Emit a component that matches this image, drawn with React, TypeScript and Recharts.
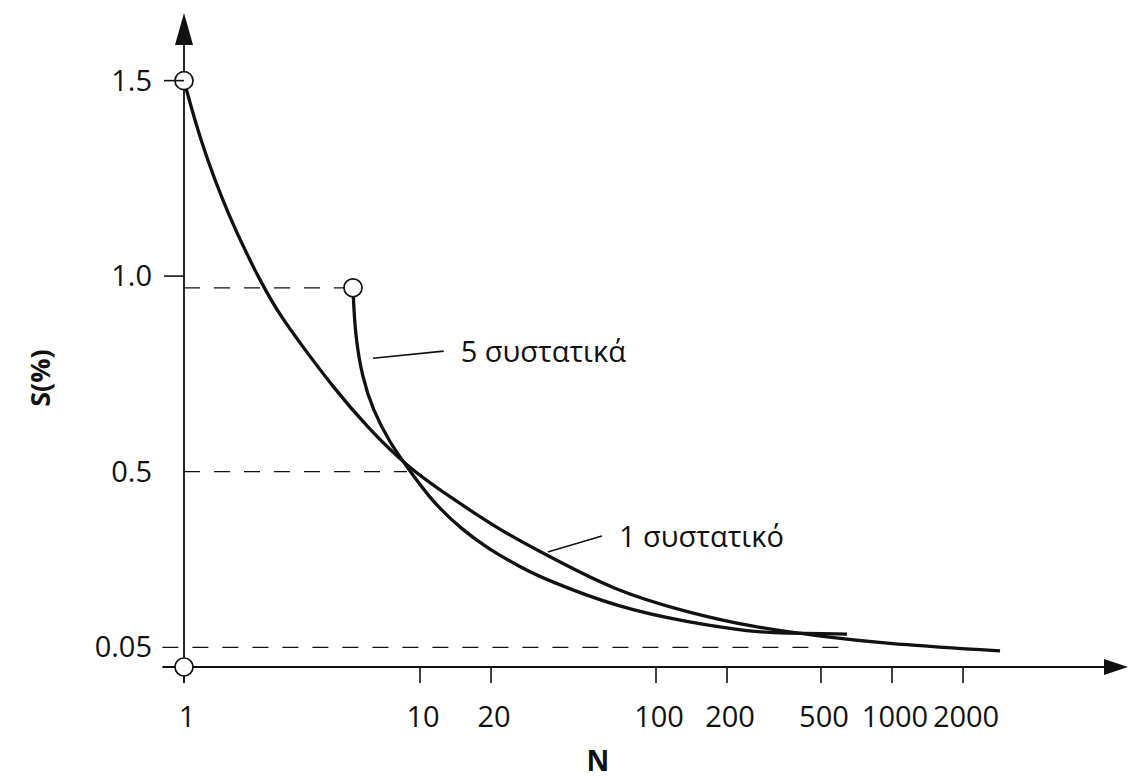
import React from 'react';
import { ComposedChart, Line, XAxis, YAxis, ReferenceLine, Scatter } from 'recharts';

// X axis (N, log-like) tick values
const xTicks = [1, 10, 20, 100, 200, 500, 1000, 2000];
// Y axis (S %) ticks
const yTicks = [0.05, 0.5, 1.0, 1.5];
const yTickLabels = ['0.05', '0.5', '1.0', '1.5'];

// Curve "1 συστατικό"
const oneN = [1, 1.17, 1.52, 2.16, 2.6, 3.1, 4.28, 5.96, 8.81, 13.4, 21.8, 34.5, 65.7, 135, 258, 495, 889, 2870];
const oneS = [1.5, 1.348, 1.161, 0.972, 0.893, 0.829, 0.716, 0.614, 0.512, 0.435, 0.35, 0.286, 0.197, 0.14, 0.102, 0.079, 0.061, 0.041];

// Curve "5 συστατικά"
const fiveN = [5.2, 5.3, 5.68, 6.32, 7.46, 8.81, 11.4, 15.2, 19.2, 26.5, 34.5, 70.3, 135, 258, 335, 645];
const fiveS = [0.97, 0.854, 0.742, 0.657, 0.573, 0.512, 0.419, 0.35, 0.305, 0.256, 0.222, 0.151, 0.115, 0.0895, 0.087, 0.084];

// open circle markers
const markerN = [1, 1, 5.2];
const markerS = [1.5, 0, 0.97];

// dashed guide lines (S level, from N, to N)
const guideS = [0.97, 0.5, 0.05];
const guideFrom = [1, 1, 0.81];
const guideTo = [5.2, 8.81, 650];

// annotations: leader line from (n1,s1) to (n2,s2), text after it
const noteText = ['5 συστατικά', '1 συστατικό'];
const noteN1 = [6.32, 34.8];
const noteS1 = [0.79, 0.294];
const noteN2 = [12.6, 59];
const noteS2 = [0.808, 0.335];

const Y_MAX = 1.673;
const X_MAX = 10000;

const FONT = '"Open Sans", "Noto Sans", sans-serif';

const oneData = oneN.map((n, i) => ({ n, s: oneS[i] }));
const fiveData = fiveN.map((n, i) => ({ n, s: fiveS[i] }));
const markerData = markerN.map((n, i) => ({ n, s: markerS[i] }));

const XTick = (props: any) => {
  const { x, y, payload } = props;
  return (
    <text x={x + 3} y={y + 42} textAnchor="middle" fontFamily={FONT} fontSize={29} fill="#111">
      {String(payload.value)}
    </text>
  );
};

const YTick = (props: any) => {
  const { x, y, payload } = props;
  const idx = yTicks.indexOf(payload.value);
  return (
    <g>
      {payload.value >= 1 ? <line x1={x + 2} x2={x + 22} y1={y} y2={y} stroke="#111" strokeWidth={1.6} /> : null}
      <text x={x - 10} y={y + 10} textAnchor="end" fontFamily={FONT} fontSize={29} fill="#111">
        {yTickLabels[idx]}
      </text>
    </g>
  );
};

const YArrowShape = (p: any) => {
  const { x1, y1, y2 } = p;
  const top = Math.min(y1, y2);
  const bottom = Math.max(y1, y2);
  return (
    <g>
      <line x1={x1} x2={x1} y1={bottom} y2={top + 30} stroke="#111" strokeWidth={1.8} />
      <polygon points={`${x1},${top} ${x1 - 9},${top + 32} ${x1 + 9},${top + 32}`} fill="#111" />
    </g>
  );
};

const XArrowShape = (p: any) => {
  const { x1, y1, x2 } = p;
  const left = Math.min(x1, x2);
  const right = Math.max(x1, x2);
  return (
    <g>
      <line x1={left} x2={right - 22} y1={y1} y2={y1} stroke="#111" strokeWidth={1.8} />
      <polygon points={`${right},${y1} ${right - 24},${y1 - 8} ${right - 24},${y1 + 8}`} fill="#111" />
    </g>
  );
};

const makeNoteShape = (text: string) => (p: any) => {
  const { x1, y1, x2, y2 } = p;
  return (
    <g>
      <line x1={x1} y1={y1} x2={x2} y2={y2} stroke="#111" strokeWidth={1.6} />
      <text x={x2 + 17} y={y2 + 11} fontFamily={FONT} fontSize={29} fill="#111">
        {text}
      </text>
    </g>
  );
};

const MarkerShape = (p: any) => (
  <circle cx={p.cx} cy={p.cy} r={9} fill="#fff" stroke="#111" strokeWidth={1.7} />
);

const XLabel = (props: any) => {
  const vb = props.viewBox || { x: 184, y: 667 };
  return (
    <text x={vb.x + 414} y={vb.y + 104} textAnchor="middle" fontFamily={FONT} fontSize={28} fontWeight={700} fill="#111">
      N
    </text>
  );
};

const YLabel = () => (
  <text
    x={39}
    y={378}
    transform="rotate(-90, 39, 378)"
    textAnchor="middle"
    dominantBaseline="central"
    fontFamily={FONT}
    fontSize={27}
    fontWeight={700}
    fill="#111"
  >
    S(%)
  </text>
);

export default function App() {
  return (
    <div style={{ position: 'absolute', left: 0, top: 0, width: 1133, height: 778, background: '#fff' }}>
      <ComposedChart width={1133} height={778} margin={{ top: 13, right: 5, bottom: 0, left: 0 }}>
        <XAxis
          dataKey="n"
          type="number"
          scale="log"
          domain={[1, X_MAX]}
          ticks={xTicks}
          interval={0}
          height={111}
          axisLine={false}
          tickSize={16}
          tickLine={{ stroke: '#111', strokeWidth: 1.6 }}
          tick={<XTick />}
          label={<XLabel />}
        />
        <YAxis
          dataKey="s"
          type="number"
          domain={[0, Y_MAX]}
          ticks={yTicks}
          interval={0}
          width={184}
          axisLine={false}
          tickLine={false}
          tickSize={20}
          tick={<YTick />}
          label={<YLabel />}
        />
        {guideS.map((s, i) => (
          <ReferenceLine
            key={'g' + i}
            segment={[{ x: guideFrom[i], y: s }, { x: guideTo[i], y: s }]}
            stroke="#111"
            strokeWidth={1.3}
            strokeDasharray="16 14"
            ifOverflow="visible"
          />
        ))}
        <ReferenceLine
          segment={[{ x: 1, y: -0.041 }, { x: 1, y: Y_MAX }]}
          ifOverflow="visible"
          shape={YArrowShape}
        />
        <ReferenceLine
          segment={[{ x: 0.81, y: 0 }, { x: X_MAX, y: 0 }]}
          ifOverflow="visible"
          shape={XArrowShape}
        />
        {noteText.map((t, i) => (
          <ReferenceLine
            key={'n' + i}
            segment={[{ x: noteN1[i], y: noteS1[i] }, { x: noteN2[i], y: noteS2[i] }]}
            ifOverflow="visible"
            shape={makeNoteShape(t)}
          />
        ))}
        <Line
          data={oneData}
          dataKey="s"
          type="basis"
          stroke="#111"
          strokeWidth={3.3}
          dot={false}
          activeDot={false}
          isAnimationActive={false}
        />
        <Line
          data={fiveData}
          dataKey="s"
          type="basis"
          stroke="#111"
          strokeWidth={3.3}
          dot={false}
          activeDot={false}
          isAnimationActive={false}
        />
        <Scatter data={markerData} dataKey="s" shape={MarkerShape} isAnimationActive={false} />
      </ComposedChart>
    </div>
  );
}
